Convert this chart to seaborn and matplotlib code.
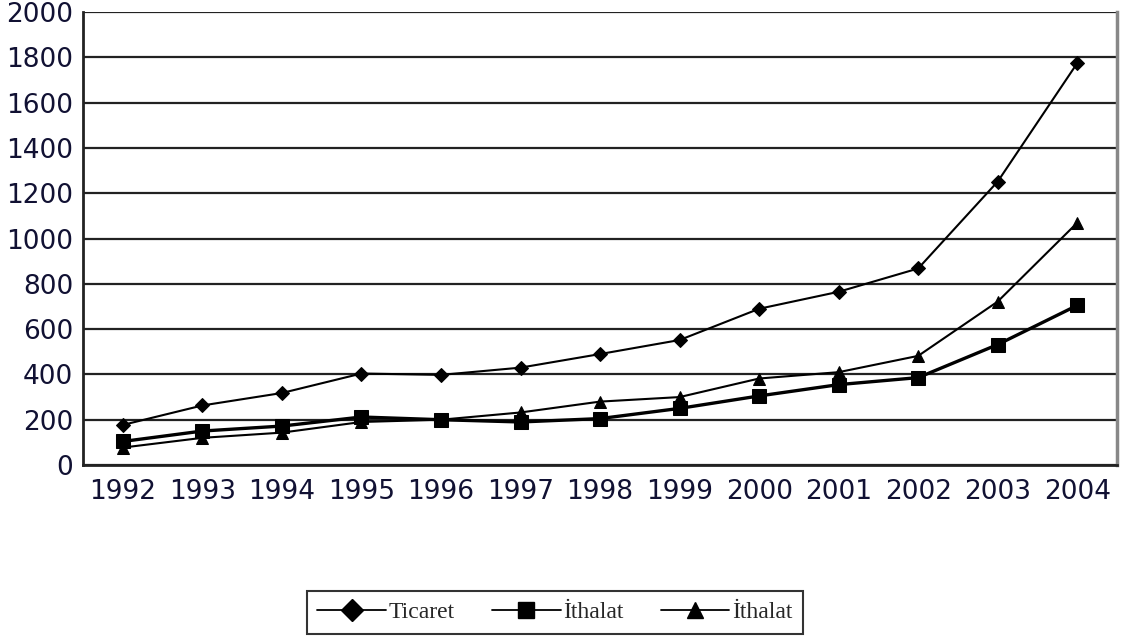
import matplotlib
import matplotlib.pyplot as plt
import seaborn as sns
import pandas as pd
from matplotlib.lines import Line2D
from matplotlib.ticker import FixedLocator, NullFormatter, FixedFormatter

matplotlib.use('Agg')

years = ["1992", "1993", "1994", "1995", "1996", "1997", "1998",
         "1999", "2000", "2001", "2002", "2003", "2004"]
ticaret = [177, 263, 318, 404, 398, 430, 490, 552, 690, 765, 868, 1252, 1775]
ithalat_kare = [104, 150, 172, 212, 200, 190, 205, 250, 305, 355, 386, 532, 705]
ithalat_ucgen = [77, 120, 143, 190, 200, 232, 280, 300, 382, 410, 482, 722, 1070]
y_ticks = [0, 200, 400, 600, 800, 1000, 1200, 1400, 1600, 1800, 2000]
series_names = ["Ticaret", "İthalat", "İthalat"]

df = pd.DataFrame({"pos": range(len(years)), "Ticaret": ticaret,
                   "Ithalat1": ithalat_kare, "Ithalat2": ithalat_ucgen})

sns.set_style("white")
fig = plt.figure(figsize=(11.23, 6.39), dpi=100)
ax = fig.add_axes([0.074, 0.2723, 0.9207, 0.7087])

ax.yaxis.grid(True, color="#222222", linewidth=1.6)
ax.set_axisbelow(True)

sns.lineplot(data=df, x="pos", y="Ticaret", ax=ax, color="black", linewidth=1.5,
             marker="D", markersize=7, markeredgecolor="black")
sns.lineplot(data=df, x="pos", y="Ithalat1", ax=ax, color="black", linewidth=2.4,
             marker="s", markersize=9.5, markeredgecolor="black")
sns.lineplot(data=df, x="pos", y="Ithalat2", ax=ax, color="black", linewidth=1.5,
             marker="^", markersize=8, markeredgecolor="black")

ax.set_xlim(-0.5, len(years) - 0.5)
ax.set_ylim(0, 2000)
ax.set_yticks(y_ticks)
ax.set_yticklabels([str(v) for v in y_ticks])

# category axis: ticks between years, labels centered
ax.xaxis.set_major_locator(FixedLocator([i - 0.5 for i in range(len(years) + 1)]))
ax.xaxis.set_major_formatter(NullFormatter())
ax.xaxis.set_minor_locator(FixedLocator(list(range(len(years)))))
ax.xaxis.set_minor_formatter(FixedFormatter(years))
ax.tick_params(axis="x", which="major", direction="inout", length=12, width=1.5, color="#222222")
ax.tick_params(axis="x", which="minor", length=0, labelsize=19, pad=10)
ax.tick_params(axis="y", direction="out", length=6, width=1.5, color="#222222", labelsize=19, pad=1)
for lab in ax.get_xticklabels(minor=True) + ax.get_yticklabels():
    lab.set_color("#111133")

ax.set_xlabel("")
ax.set_ylabel("")

for side in ["left", "bottom"]:
    ax.spines[side].set_color("#222222")
    ax.spines[side].set_linewidth(2)
ax.spines["top"].set_visible(False)
ax.spines["right"].set_color("#888888")
ax.spines["right"].set_linewidth(2.5)

# legend handles: thin line with marker in the middle
handles = [Line2D([], [], color="black", linewidth=1.3, marker=m, markersize=11)
           for m in ["D", "s", "^"]]
leg = fig.legend(handles, series_names, loc="center", bbox_to_anchor=(0.494, 0.042), ncol=3,
                 frameon=True, fancybox=False, edgecolor="black", handlelength=2.9,
                 handletextpad=0.1, columnspacing=1.6, borderpad=0.45,
                 prop={"family": "Liberation Serif", "size": 17})
leg.get_frame().set_linewidth(1.5)

plt.savefig("out.png", dpi=100, facecolor="white")
